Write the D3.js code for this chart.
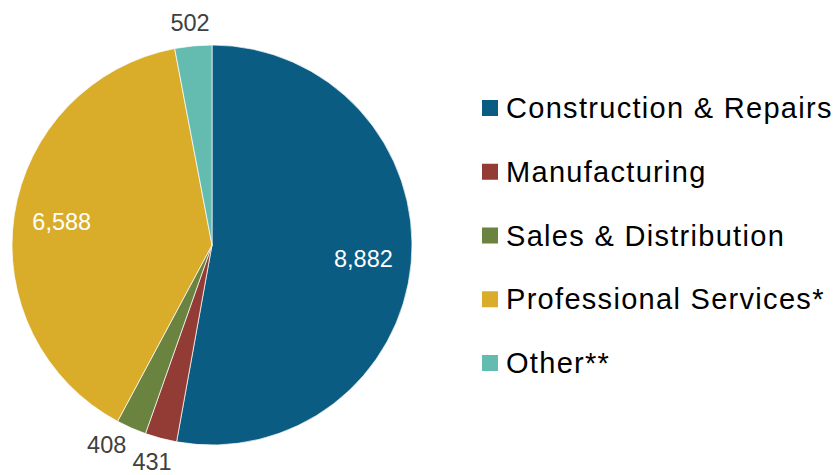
<!DOCTYPE html>
<html><head><meta charset="utf-8">
<script src="https://cdn.jsdelivr.net/npm/d3@7"></script>
<style>body{margin:0;background:#fff}svg{display:block}</style>
</head><body>
<svg id="chart" width="835" height="475"></svg>
<script>
const categories = ["Construction & Repairs","Manufacturing","Sales & Distribution","Professional Services*","Other**"];
const values = [8882, 431, 408, 6588, 502];
const colors = ["#0b5c82","#933c35","#6a8440","#d9ad2a","#64bbb0"];
const labelInside = [true, false, false, true, false];

const svg = d3.select("#chart");
const cx = 212, cy = 245, R = 200;
const FONT = "Liberation Sans, Arial, sans-serif";
const data = categories.map((c,i)=>({cat:c, value:values[i], color:colors[i], inside:labelInside[i]}));
const pie = d3.pie().value(d=>d.value).sort(null);
const arcs = pie(data);
const arc = d3.arc().innerRadius(0).outerRadius(R);
const g = svg.append("g").attr("transform",`translate(${cx},${cy})`);
g.selectAll("path").data(arcs).join("path")
  .attr("d",arc).attr("fill",d=>d.data.color)
  .attr("stroke","#fff").attr("stroke-width",0.7);

const fmt = d3.format(",");
const inArc = d3.arc().innerRadius(152).outerRadius(152);
const rOut = R + 15;
const fs = 23.5;

const labels = g.selectAll("text.val").data(arcs).join("text").attr("class","val")
  .attr("text-anchor","middle").attr("dy","0.36em")
  .attr("font-family",FONT).attr("font-size",fs)
  .attr("fill",d=>d.data.inside?"#ffffff":"#404040")
  .text(d=>fmt(d.data.value));

function outsidePos(a, w, h){
  const s = Math.sin(a), c = -Math.cos(a);
  return [rOut*s + s*w/2, rOut*c + c*h/2];
}
const placed = [];
labels.each(function(d){
  const bb = this.getBBox();
  const w = bb.width, h = fs*0.75;
  let pos;
  if (d.data.inside) { pos = inArc.centroid(d); }
  else {
    let a = (d.startAngle + d.endAngle)/2;
    pos = outsidePos(a, w, h);
    const overlaps = p => placed.some(q => Math.abs(p[0]-q.p[0]) < (w+q.w)/2 + 6 && Math.abs(p[1]-q.p[1]) < (h+q.h)/2 + 6);
    let guard = 0;
    while (overlaps(pos) && guard++ < 200) { a += 0.01; pos = outsidePos(a, w, h); }
    placed.push({p:pos, w, h});
  }
  d3.select(this).attr("transform",`translate(${pos})`);
});

const lg = svg.append("g").attr("transform","translate(482,108)");
const row = lg.selectAll("g").data(data).join("g")
  .attr("transform",(d,i)=>`translate(0,${i*63.75})`);
row.append("rect").attr("x",0).attr("y",-8).attr("width",16).attr("height",16).attr("fill",d=>d.color);
row.append("text").attr("x",24).attr("y",10)
  .attr("font-family",FONT).attr("font-size",29).attr("letter-spacing","1.3px")
  .attr("fill","#000").text(d=>d.cat);
</script>
</body></html>
